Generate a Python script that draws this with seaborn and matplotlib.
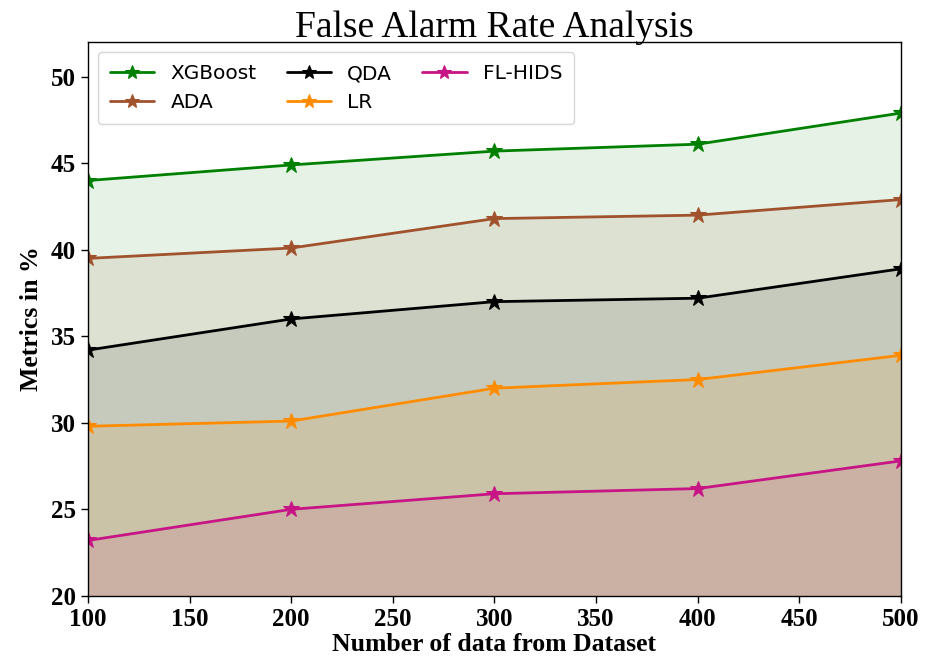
import matplotlib
matplotlib.use("Agg")
import matplotlib.pyplot as plt
import seaborn as sns
import pandas as pd

# Number of data samples taken from the dataset
samples = [100, 200, 300, 400, 500]

# False alarm rate (%) per model
xgboost = [44.0, 44.9, 45.7, 46.1, 47.9]
ada = [39.5, 40.1, 41.8, 42.0, 42.9]
qda = [34.2, 36.0, 37.0, 37.2, 38.9]
lr = [29.8, 30.1, 32.0, 32.5, 33.9]
fl_hids = [23.2, 25.0, 25.9, 26.2, 27.8]

models = ["XGBoost", "ADA", "QDA", "LR", "FL-HIDS"]
series = [xgboost, ada, qda, lr, fl_hids]
colors = ["green", "sienna", "black", "darkorange", "mediumvioletred"]

df = pd.DataFrame(
    [(m, x, v) for m, vals in zip(models, series) for x, v in zip(samples, vals)],
    columns=["model", "samples", "rate"],
)

sns.set_style("white")
plt.rcParams["text.color"] = "black"
plt.rcParams["axes.labelcolor"] = "black"
plt.rcParams["xtick.color"] = "black"
plt.rcParams["ytick.color"] = "black"

fig = plt.figure(figsize=(9.25, 6.68), dpi=100)
ax = fig.add_axes([0.095, 0.108, 0.879, 0.829])

sns.lineplot(
    data=df, x="samples", y="rate", hue="model", hue_order=models,
    palette=colors, marker="*", markersize=12, linewidth=2, ax=ax,
)
for line, c in zip(ax.get_lines(), colors):
    line.set_markeredgecolor(c)
    line.set_markerfacecolor(c)
for vals, c in zip(series, colors):
    ax.fill_between(samples, vals, 20, color=c, alpha=0.1, linewidth=0)

ax.set_xlim(100, 500)
ax.set_ylim(20, 52)
ax.set_xticks(range(100, 501, 50))
ax.set_yticks(range(20, 51, 5))
ax.tick_params(axis="both", direction="out", length=5, width=1, labelsize=18,
               left=True, bottom=True, colors="black")
for lab in ax.get_xticklabels() + ax.get_yticklabels():
    lab.set_fontfamily("Liberation Serif")
    lab.set_fontweight("bold")
for s in ax.spines.values():
    s.set_color("black")
    s.set_linewidth(1)

ax.set_title("False Alarm Rate Analysis", fontsize=27, family="Liberation Serif",
             color="black", pad=4)
ax.set_xlabel("Number of data from Dataset", fontsize=18.5, family="Liberation Serif",
              fontweight="bold", labelpad=2)
ax.set_ylabel("Metrics in %", fontsize=18.5, family="Liberation Serif",
              fontweight="bold", labelpad=6)

leg = ax.legend(loc="upper left", ncol=3, fontsize=14.5, frameon=True, handlelength=2.2,
                columnspacing=1.5, borderpad=0.6, title=None)
for h, c in zip(leg.legend_handles, colors):
    h.set_markeredgecolor(c)
    h.set_markerfacecolor(c)
    h.set_markersize(10)

fig.savefig("out.png", dpi=100)
